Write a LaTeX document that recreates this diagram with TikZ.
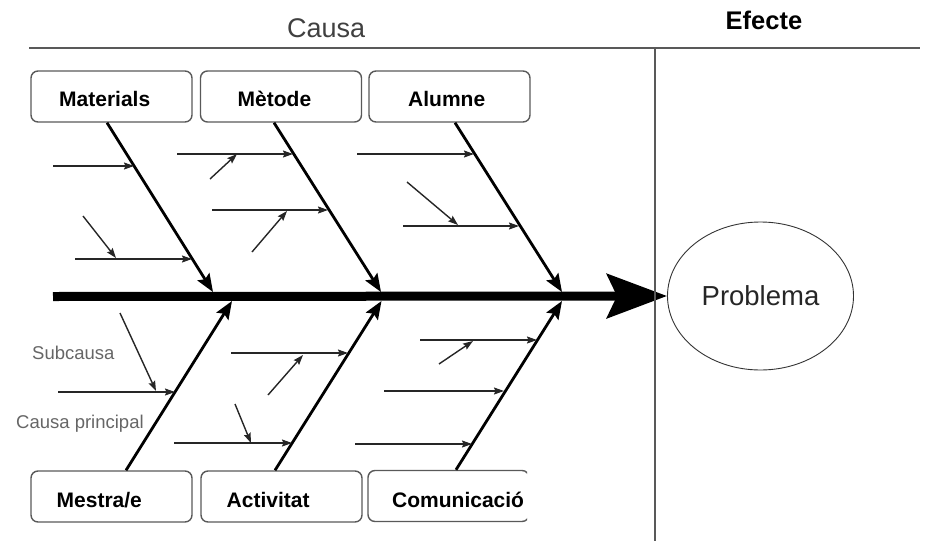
\documentclass[tikz,border=0pt]{standalone}
\usepackage{fontspec}
\setmainfont{Liberation Sans}
\usetikzlibrary{arrows.meta,shapes.geometric}

\tikzset{
	catbox/.style={draw=black!65, line width=1.4pt, rounded corners=7pt,
		minimum width=161pt, minimum height=51pt, inner sep=0pt},
	cattext/.style={anchor=base west, inner sep=0pt,
		font=\fontsize{21}{21}\selectfont\bfseries},
	bone/.style={line width=2.8pt,
		-{Stealth[length=18pt, width=14pt, inset=3pt]}},
	twig/.style={black!85, line width=1.4pt,
		-{Stealth[length=10pt, width=7pt, inset=1.5pt]}},
	note/.style={anchor=base west, inner sep=0pt, text=black!60,
		font=\fontsize{18.5}{18.5}\selectfont},
}

\begin{document}
\begin{tikzpicture}[x=1pt, y=-1pt]
		\useasboundingbox (0,0) rectangle (926,541);
		% headings
		\node[anchor=base west, inner sep=0pt, text=black!75,
			font=\fontsize{27}{27}\selectfont] (causa) at (287,37.3) {Causa};
		\node[anchor=base west, inner sep=0pt,
			font=\fontsize{25.5}{25.5}\selectfont\bfseries] (efecte) at (725.5,29) {Efecte};
		\draw[black!65, line width=1.5pt] (29,48) -- (920,48);
		% effect and spine
		\node[ellipse, draw=black!80, line width=0.9pt, minimum width=186pt,
			minimum height=148pt, inner sep=0pt, text depth=0pt, text=black!85,
			font=\fontsize{27.5}{27.5}\selectfont] (prob) at (760.5,296) {Problema};
		\draw[line width=9pt, -{Stealth[length=60pt, width=44pt, inset=10pt]}]
			(53,296.5) -- (prob.west);
		\draw[black!65, line width=1.5pt] (655,48) -- (655,541);
		% category boxes
		\node[catbox] (mat) at (111.5,96.5) {};
		\node[catbox] (met) at (281,96.5) {};
		\node[catbox] (alu) at (449.5,96.5) {};
		\node[catbox] (mes) at (111.5,496.5) {};
		\node[catbox] (act) at (281.5,496.5) {};
		\begin{scope}
			\clip (360,460) rectangle (527,535);
			\node[catbox] (com) at (448.5,496) {};
		\end{scope}
		\node[cattext] (matlabel) at (59,106.7) {Materials};
		\node[cattext] (metlabel) at (237.5,106.7) {Mètode};
		\node[cattext] (alulabel) at (408,106.3) {Alumne};
		\node[cattext] (meslabel) at (56.5,507.7) {Mestra/e};
		\node[cattext] (actlabel) at (226.5,507.7) {Activitat};
		\node[cattext] (comlabel) at (392,507.3) {Comunicació};
		% main bones
		\coordinate (s1) at (213,292); \coordinate (s2) at (381,292);
		\coordinate (s3) at (562,292);
		\coordinate (n1) at (232,301); \coordinate (n2) at (381.5,301);
		\coordinate (n3) at (562,301);
		\draw[bone] ([xshift=-4.5pt]mat.south) -- (s1);
		\draw[bone] ([xshift=-7pt]met.south) -- (s2);
		\draw[bone] ([xshift=5.5pt]alu.south) -- (s3);
		\draw[bone] ([xshift=14.5pt]mes.north) -- (n1);
		\draw[bone] ([xshift=-6.5pt]act.north) -- (n2);
		\draw[bone] ([xshift=7.5pt]com.north) -- (n3);
		% sub causes, upper half
		\draw[twig] (53,166) -- (134,166);
		\draw[twig] (75,259) -- (192,259);
		\draw[twig] (83,216) -- (116,258);
		\draw[twig] (177,154) -- (293,154);
		\draw[twig] (210,179) -- (237,154);
		\draw[twig] (212,210) -- (328,210);
		\draw[twig] (252,252) -- (287,211);
		\draw[twig] (357,154) -- (474,154);
		\draw[twig] (407,182) -- (458,225);
		\draw[twig] (403,226) -- (519,226);
		% sub causes, lower half
		\draw[twig] (58,392) -- (175,392);
		\draw[twig] (120,313) -- (156,391);
		\draw[twig] (231,353) -- (348,353);
		\draw[twig] (268,395) -- (303,355);
		\draw[twig] (174,443) -- (292,443);
		\draw[twig] (235,404) -- (251,443);
		\draw[twig] (420,340) -- (537,340);
		\draw[twig] (439,364) -- (473,341);
		\draw[twig] (384,391) -- (504,391);
		\draw[twig] (355,444) -- (472,444);
		% legend
		\node[note] (subc) at (32,359) {Subcausa};
		\node[note] (princ) at (16,428.3) {Causa principal};
	\end{tikzpicture}
\end{document}
